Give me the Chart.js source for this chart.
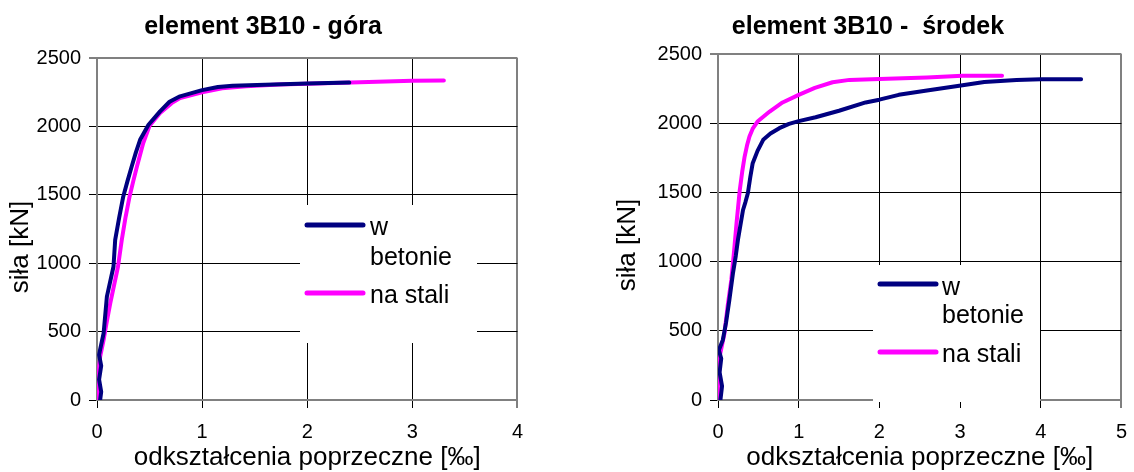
<!DOCTYPE html>
<html>
<head>
<meta charset="utf-8">
<script src="https://cdn.jsdelivr.net/npm/chart.js@4.4.1/dist/chart.umd.min.js"></script>
<style>
  body { margin: 0; background: #fff; width: 1134px; height: 472px; overflow: hidden; position: relative; }
  canvas { position: absolute; top: 0; }
  #left { left: 0; }
  #right { left: 607px; }
</style>
</head>
<body>
<canvas id="left" width="535" height="472"></canvas>
<canvas id="right" width="532" height="472"></canvas>
<script>
// series names and chart texts
const seriesNames = ['w betonie', 'na stali'];
const titles = ['element 3B10 - góra', 'element 3B10 -  środek'];
const xTitle = 'odkształcenia poprzeczne [‰]';
const yTitle = 'siła [kN]';

// [strain ‰, force kN]
const leftBeton = [[0.03,0],[0.04,60],[0.02,150],[0.04,250],[0.02,330],[0.03,370],[0.063,488],[0.094,756],
  [0.157,976],[0.173,1171],[0.21,1330],[0.25,1488],[0.29,1600],[0.33,1707],[0.37,1810],[0.41,1902],
  [0.49,2012],[0.6,2110],[0.69,2180],[0.79,2220],[1.0,2265],[1.15,2288],[1.29,2297],[1.6,2304],[2.0,2313],[2.4,2320]];
const leftStal = [[0,0],[0.01,150],[0.03,317],[0.063,439],[0.09,560],[0.126,707],[0.2,976],[0.236,1171],
  [0.27,1330],[0.31,1488],[0.345,1600],[0.38,1707],[0.44,1878],[0.5,2005],[0.6,2098],[0.71,2170],
  [0.79,2207],[1.0,2249],[1.19,2278],[1.42,2293],[1.73,2306],[2.0,2312],[2.5,2322],[3.0,2333],[3.3,2335]];
const rightBeton = [[0.03,0],[0.05,100],[0.02,200],[0.04,300],[0.01,360],[0.06,434],[0.1,560],[0.14,720],[0.185,915],
  [0.22,1040],[0.247,1157],[0.28,1270],[0.31,1373],[0.34,1430],[0.37,1494],[0.4,1610],[0.43,1711],[0.49,1800],
  [0.56,1880],[0.65,1925],[0.76,1964],[0.88,1995],[1.0,2015],[1.21,2043],[1.5,2090],[1.83,2150],[2.0,2170],
  [2.24,2205],[2.59,2236],[2.99,2270],[3.3,2298],[3.7,2312],[4.0,2318],[4.5,2318]];
const rightStal = [[0,0],[0.01,150],[0.02,313],[0.08,482],[0.12,680],[0.165,867],[0.2,1080],[0.23,1280],[0.27,1518],
  [0.3,1650],[0.33,1759],[0.36,1840],[0.39,1904],[0.43,1960],[0.49,2012],[0.64,2084],[0.8,2150],[1.0,2205],
  [1.2,2255],[1.42,2296],[1.63,2313],[2.0,2320],[2.59,2330],[3.03,2342],[3.52,2342]];

const xMax = [4, 5];
const yMax = 2500;
const colors = ['#000080', '#ff00ff'];
const FONT = '"Liberation Sans", Arial, sans-serif';

// titles, axis titles and the in-plot legend
const textPlugin = {
  id: 'texts',
  afterDraw(chart, args, o) {
    const c = chart.ctx;
    const a = chart.chartArea;
    c.save();
    c.fillStyle = '#000';
    c.font = 'bold 25px ' + FONT;
    c.textAlign = 'center';
    c.textBaseline = 'alphabetic';
    c.fillText(o.title, o.titleX, 34);
    c.font = '26px ' + FONT;
    c.textBaseline = 'middle';
    c.fillText(xTitle, (a.left + a.right) / 2, 458);
    c.translate(o.yTitleX, o.yTitleY);
    c.rotate(-Math.PI / 2);
    c.fillText(yTitle, 0, 0);
    c.restore();

    const L = o.legend;
    c.save();
    c.fillStyle = '#fff';
    c.fillRect(L.x, L.y, L.w, L.h);
    c.lineCap = 'round';
    c.lineWidth = 5;
    c.strokeStyle = colors[0];
    c.beginPath(); c.moveTo(L.lx, L.y1); c.lineTo(L.lx + 56, L.y1); c.stroke();
    c.strokeStyle = colors[1];
    c.beginPath(); c.moveTo(L.lx, L.y2); c.lineTo(L.lx + 56, L.y2); c.stroke();
    c.fillStyle = '#000';
    c.font = '25px ' + FONT;
    c.textAlign = 'left';
    c.textBaseline = 'alphabetic';
    const parts = seriesNames[0].split(' ');
    c.fillText(parts[0], L.tx, L.b1);
    c.fillText(parts[1], L.tx, L.b2);
    c.fillText(seriesNames[1], L.tx, L.b3);
    c.restore();
  }
};

function makeChart(id, beton, stal, xm, axisW, padTop, texts) {
  const edge = (max) => (ctx) => (ctx.tick && ctx.tick.value === max ? '#808080' : '#000');
  const edgeW = (max) => (ctx) => (ctx.tick && ctx.tick.value === max ? 2 : 1);
  const plain = (v) => String(v);
  return new Chart(document.getElementById(id), {
    type: 'scatter',
    data: {
      datasets: [
        { label: seriesNames[0], data: beton.map(p => ({ x: p[0], y: p[1] })), borderColor: colors[0] },
        { label: seriesNames[1], data: stal.map(p => ({ x: p[0], y: p[1] })), borderColor: colors[1] }
      ].map(d => Object.assign(d, { showLine: true, pointRadius: 0, borderWidth: 4, tension: 0,
        borderCapStyle: 'round', borderJoinStyle: 'round', backgroundColor: d.borderColor }))
    },
    options: {
      responsive: false,
      animation: false,
      devicePixelRatio: 1,
      layout: { padding: { top: padTop, right: 0, left: 0, bottom: 0 } },
      plugins: { legend: { display: false }, tooltip: { enabled: false }, title: { display: false }, texts: texts },
      scales: {
        x: {
          type: 'linear', min: 0, max: xm,
          ticks: { stepSize: 1, color: '#000', font: { family: FONT, size: 20 }, padding: 12, maxRotation: 0, callback: plain },
          grid: { color: edge(xm), lineWidth: edgeW(xm), tickColor: '#000', tickWidth: 1, tickLength: 8 },
          border: { color: '#808080', width: 2 },
          afterFit: (s) => { s.height = 72; }
        },
        y: {
          type: 'linear', min: 0, max: yMax,
          ticks: { stepSize: 500, color: '#000', font: { family: FONT, size: 20 }, padding: 8, callback: plain },
          grid: { color: edge(yMax), lineWidth: edgeW(yMax), tickColor: '#000', tickWidth: 1, tickLength: 8 },
          border: { color: '#808080', width: 2 },
          afterFit: (s) => { s.width = axisW; }
        }
      }
    },
    plugins: [textPlugin]
  });
}

makeChart('left', leftBeton, leftStal, xMax[0], 97, 58, {
  title: titles[0], titleX: 263, yTitleX: 21, yTitleY: 247,
  legend: { x: 300, y: 205, w: 177, h: 138, lx: 307, tx: 370, y1: 225, y2: 293, b1: 235, b2: 265, b3: 303 }
});
makeChart('right', rightBeton, rightStal, xMax[1], 111, 54, {
  title: titles[1], titleX: 261, yTitleX: 21, yTitleY: 245,
  legend: { x: 266, y: 265, w: 167, h: 137, lx: 273, tx: 335, y1: 284, y2: 352, b1: 295, b2: 323, b3: 362 }
});
</script>
</body>
</html>
